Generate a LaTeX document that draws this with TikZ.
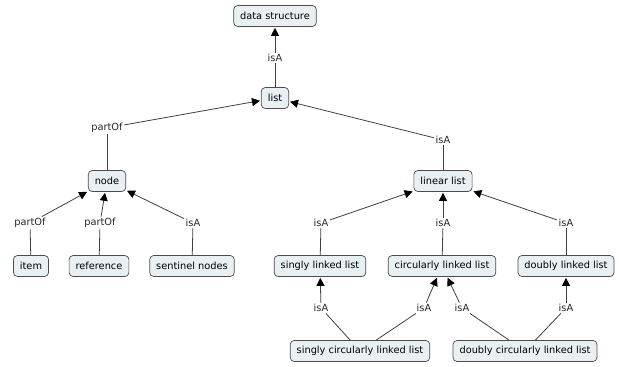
\documentclass[tikz,border=0pt]{standalone}
\usepackage{fontspec}
\setmainfont{DejaVu Sans}
\usetikzlibrary{arrows.meta}
\tikzset{
  concept/.style={draw=black!70, fill=cmapfill, rounded corners=4pt, line width=0.7pt,
    inner xsep=6.5pt, minimum height=21pt, font=\fontsize{9.8}{11}\selectfont},
  linkword/.style={fill=white, inner sep=1.5pt, font=\fontsize{9.8}{11}\selectfont, text=black!85},
  cline/.style={draw=black!75, line width=0.8pt},
  toparent/.style={cline, -{Triangle[length=8pt,width=8pt,color=black]}, shorten >=1pt}
}
\definecolor{cmapfill}{HTML}{E8F0F4}
\begin{document}
\begin{tikzpicture}[x=1pt,y=-1pt]
  \fill[white](0,0)rectangle(619,367);
  \useasboundingbox(0,0)rectangle(619,367);
  \node[concept](ds) at (275,16) {data structure};
  \node[concept](list) at (275,98) {list};
  \node[concept](node) at (107,181) {node};
  \node[concept](linear) at (443,181) {linear list};
  \node[concept](item) at (31,266) {item};
  \node[concept](ref) at (99,266) {reference};
  \node[concept](sentinel) at (192,266) {sentinel nodes};
  \node[concept](sll) at (320,266) {singly linked list};
  \node[concept](cll) at (442,266) {circularly linked list};
  \node[concept](dll) at (566,266) {doubly linked list};
  \node[concept](scll) at (360,351) {singly circularly linked list};
  \node[concept](dcll) at (525,351) {doubly circularly linked list};
  \node[linkword](isAds) at (275,58) {isA};
  \node[linkword](partOfnode) at (107,128) {partOf};
  \node[linkword](isAlinear) at (443,140) {isA};
  \node[linkword](partOfitem) at (30,223) {partOf};
  \node[linkword](partOfref) at (100,223) {partOf};
  \node[linkword](isAsentinel) at (193,223) {isA};
  \node[linkword](isAsll) at (321,223) {isA};
  \node[linkword](isAcll) at (443,223) {isA};
  \node[linkword](isAdll) at (566,223) {isA};
  \node[linkword](isAscllsll) at (321,308) {isA};
  \node[linkword](isAscllcll) at (424,308) {isA};
  \node[linkword](isAdcllcll) at (462,308) {isA};
  \node[linkword](isAdcll) at (566,308) {isA};
  \draw[cline](list)--(isAds);
  \draw[toparent](isAds)--(ds);
  \draw[cline](node)--(partOfnode);
  \draw[toparent](partOfnode)--(list);
  \draw[cline](linear)--(isAlinear);
  \draw[toparent](isAlinear)--(list);
  \draw[cline](item)--(partOfitem);
  \draw[toparent](partOfitem)--(node);
  \draw[cline](ref)--(partOfref);
  \draw[toparent](partOfref)--(node);
  \draw[cline](sentinel)--(isAsentinel);
  \draw[toparent](isAsentinel)--(node);
  \draw[cline](sll)--(isAsll);
  \draw[toparent](isAsll)--(linear);
  \draw[cline](cll)--(isAcll);
  \draw[toparent](isAcll)--(linear);
  \draw[cline](dll)--(isAdll);
  \draw[toparent](isAdll)--(linear);
  \draw[cline](scll)--(isAscllsll);
  \draw[toparent](isAscllsll)--(sll);
  \draw[cline](scll)--(isAscllcll);
  \draw[toparent](isAscllcll)--(cll);
  \draw[cline](dcll)--(isAdcllcll);
  \draw[toparent](isAdcllcll)--(cll);
  \draw[cline](dcll)--(isAdcll);
  \draw[toparent](isAdcll)--(dll);
\end{tikzpicture}
\end{document}
